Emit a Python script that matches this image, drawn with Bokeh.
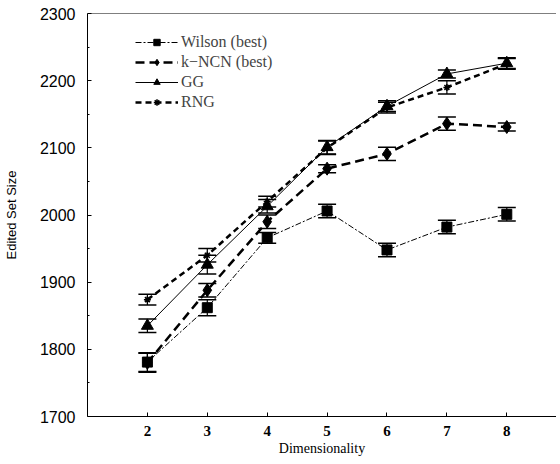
from bokeh.plotting import figure
from bokeh.models import (ColumnDataSource, Whisker, TeeHead, Legend, LegendItem,
                          FixedTicker, Span, Range1d)
from bokeh.embed import file_html
from bokeh.resources import INLINE

dims = [2, 3, 4, 5, 6, 7, 8]
wilson = [1781, 1862, 1966, 2006, 1948, 1982, 2001]
wilson_err = [14, 12, 8, 10, 10, 10, 10]
kncn = [1780, 1888, 1990, 2069, 2091, 2136, 2131]
kncn_err = [14, 10, 10, 6, 10, 10, 6]
gg = [1835, 1926, 2013, 2101, 2162, 2210, 2226]
gg_err = [10, 14, 10, 10, 8, 6, 8]
rng = [1874, 1940, 2020, 2100, 2160, 2190, 2225]
rng_err = [8, 10, 8, 10, 8, 10, 8]

p = figure(width=556, height=458, output_backend="svg", toolbar_location=None,
           x_range=Range1d(1, 8.83), y_range=Range1d(1700, 2300),
           min_border_left=86, min_border_right=0, min_border_top=13, min_border_bottom=41)
p.outline_line_color = None
p.xgrid.visible = False
p.ygrid.visible = False
p.background_fill_color = "white"

series = [
    ("Wilson (best)", wilson, wilson_err, "square", 10, 1, "6 2 2 2"),
    ("k\u2212NCN (best)", kncn, kncn_err, "diamond", 13, 2.5, "9 5"),
    ("GG", gg, gg_err, "triangle", 12, 1, "solid"),
    ("RNG", rng, rng_err, "asterisk", 7, 2.5, "6 4"),
]

items = []
for name, vals, errs, marker, size, lw, dash in series:
    src = ColumnDataSource(dict(x=dims, y=vals,
                                lo=[v - e for v, e in zip(vals, errs)],
                                hi=[v + e for v, e in zip(vals, errs)]))
    ln = p.line("x", "y", source=src, line_color="black", line_width=lw, line_dash=dash)
    w = Whisker(base="x", upper="hi", lower="lo", source=src, line_color="black", line_width=1.2,
                upper_head=TeeHead(size=18, line_color="black", line_width=1.5),
                lower_head=TeeHead(size=18, line_color="black", line_width=1.5))
    p.add_layout(w)
    sc = p.scatter("x", "y", source=src, marker=marker, size=size, fill_color="black",
                   line_color="black", line_width=1.5 if marker == "asterisk" else 1)
    items.append(LegendItem(label=name, renderers=[ln, sc]))

legend = Legend(items=items, location=(48, 305), glyph_width=43, glyph_height=16,
                label_height=16, label_text_font="Liberation Serif", label_text_font_size="16px",
                label_standoff=3, spacing=2, padding=0, margin=0, border_line_color=None,
                background_fill_alpha=0)
p.add_layout(legend, "center")

p.add_layout(Span(location=2300, dimension="width", line_color="black", line_width=1))

p.xaxis.ticker = FixedTicker(ticks=dims)
p.yaxis.ticker = FixedTicker(ticks=[1700, 1800, 1900, 2000, 2100, 2200, 2300],
                             minor_ticks=[1750, 1850, 1950, 2050, 2150, 2250])
for ax in (p.xaxis[0], p.yaxis[0]):
    ax.axis_line_color = "black"
    ax.major_tick_in = 4
    ax.major_tick_out = 0
    ax.minor_tick_in = 2
    ax.minor_tick_out = 0
    ax.major_label_text_color = "black"
    ax.axis_label_text_font_style = "normal"
    ax.axis_label_text_color = "black"

p.xaxis.minor_tick_line_color = None
p.xaxis.axis_label = "Dimensionality"
p.xaxis.axis_label_text_font = "Liberation Serif"
p.xaxis.axis_label_text_font_size = "14px"
p.xaxis.axis_label_standoff = 2
p.xaxis.major_label_text_font = "Liberation Serif"
p.xaxis.major_label_text_font_style = "bold"
p.xaxis.major_label_text_font_size = "15px"
p.xaxis.major_label_standoff = 9

p.yaxis.axis_label = "Edited Set Size"
p.yaxis.axis_label_text_font = "Liberation Sans"
p.yaxis.axis_label_text_font_size = "13px"
p.yaxis.axis_label_standoff = 18
p.yaxis.major_label_text_font = "Liberation Sans"
p.yaxis.major_label_text_font_size = "16px"
p.yaxis.major_label_standoff = 12

open("out.html", "w").write(file_html(p, INLINE))
